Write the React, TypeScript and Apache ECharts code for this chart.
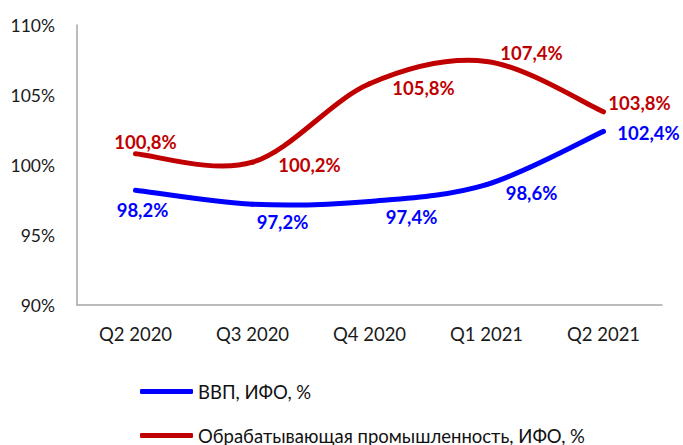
import React, { useEffect, useRef } from "react";
import * as echarts from "echarts";

const categories = ["Q2 2020", "Q3 2020", "Q4 2020", "Q1 2021", "Q2 2021"];
const gdpName = "ВВП, ИФО, %";
const gdpValues = [98.2, 97.2, 97.4, 98.6, 102.4];
const mfgName = "Обрабатывающая промышленность, ИФО, %";
const mfgValues = [100.8, 100.2, 105.8, 107.4, 103.8];
const yTicks = [90, 95, 100, 105, 110];

// label offsets (dx, dy) relative to each point
const gdpOffsets = [[7, 20], [30, 18], [42, 16], [45, 8], [45, 2]];
const mfgOffsets = [[10, -12], [57, 3], [54, 4], [45, -8], [36, -9]];

const BLUE = "#0000ff";
const RED = "#c00000";
const FONT = "Lato, 'Noto Sans', 'DejaVu Sans', sans-serif";
const fmt = (v: number) => v.toFixed(1).replace(".", ",") + "%";

// Catmull-Rom style smooth curve, one bezier segment per data point
const curveSeries = (name: string, vals: number[], color: string) => ({
  name,
  type: "custom",
  silent: true,
  itemStyle: { color },
  data: vals.map((v, i) => [i, v]),
  encode: { x: 0, y: 1 },
  renderItem: (params: any, api: any) => {
    const i = params.dataIndex;
    const n = vals.length;
    if (i >= n - 1) return null;
    const p = (k: number) => {
      const c = Math.max(0, Math.min(n - 1, k));
      return api.coord([c, vals[c]]);
    };
    const p0 = p(i - 1), p1 = p(i), p2 = p(i + 1), p3 = p(i + 2);
    const t = 1 / 6;
    return {
      type: "bezierCurve",
      shape: {
        x1: p1[0], y1: p1[1],
        cpx1: p1[0] + (p2[0] - p0[0]) * t, cpy1: p1[1] + (p2[1] - p0[1]) * t,
        cpx2: p2[0] - (p3[0] - p1[0]) * t, cpy2: p2[1] - (p3[1] - p1[1]) * t,
        x2: p2[0], y2: p2[1],
      },
      style: { stroke: color, lineWidth: 5, fill: "none", lineCap: "round" },
    };
  },
});

const labelSeries = (name: string, vals: number[], offs: number[][], color: string) => ({
  name: name + " labels",
  type: "line",
  symbol: "circle",
  symbolSize: 1,
  showSymbol: true,
  silent: true,
  z: 5,
  lineStyle: { width: 0, color },
  itemStyle: { color },
  data: vals.map((v, i) => ({
    value: v,
    label: {
      show: true,
      position: "inside",
      align: "center",
      verticalAlign: "middle",
      offset: offs[i],
      formatter: () => fmt(v),
      color,
      fontFamily: FONT,
      fontWeight: "bold",
      fontSize: 18.5,
    },
  })),
});

export default function App() {
  const ref = useRef<HTMLDivElement>(null);
  useEffect(() => {
    if (!ref.current) return;
    const chart = echarts.init(ref.current, undefined, { renderer: "svg" });
    const legendBase = {
      orient: "horizontal",
      left: 140,
      padding: 0,
      itemWidth: 53,
      itemHeight: 5,
      icon: "roundRect",
      textStyle: { color: "#111", fontFamily: FONT, fontSize: 18.5 },
    };
    chart.setOption({
      animation: false,
      grid: { left: 77, right: 21, top: 25, bottom: 140, containLabel: false },
      xAxis: {
        type: "category",
        data: categories,
        boundaryGap: true,
        axisLine: { show: true, lineStyle: { color: "#a6a6a6", width: 1.5 } },
        axisTick: { show: false },
        axisLabel: { color: "#1a1a1a", fontFamily: FONT, fontSize: 18.5, margin: 19 },
        splitLine: { show: false },
      },
      yAxis: {
        type: "value",
        min: yTicks[0],
        max: yTicks[yTicks.length - 1],
        interval: 5,
        axisLine: { show: true, lineStyle: { color: "#a6a6a6", width: 1.5 } },
        axisTick: { show: false },
        splitLine: { show: false },
        axisLabel: {
          color: "#1a1a1a",
          fontFamily: FONT,
          fontSize: 17.5,
          margin: 22,
          formatter: (v: number) => v + "%",
        },
      },
      legend: [
        { ...legendBase, top: 382, data: [{ name: gdpName, itemStyle: { color: BLUE } }] },
        { ...legendBase, top: 426, data: [{ name: mfgName, itemStyle: { color: RED } }] },
      ],
      series: [
        curveSeries(gdpName, gdpValues, BLUE),
        curveSeries(mfgName, mfgValues, RED),
        labelSeries(gdpName, gdpValues, gdpOffsets, BLUE),
        labelSeries(mfgName, mfgValues, mfgOffsets, RED),
      ],
    });
    return () => chart.dispose();
  }, []);
  return <div ref={ref} style={{ width: 683, height: 445, position: "absolute", left: 0, top: 0 }} />;
}
